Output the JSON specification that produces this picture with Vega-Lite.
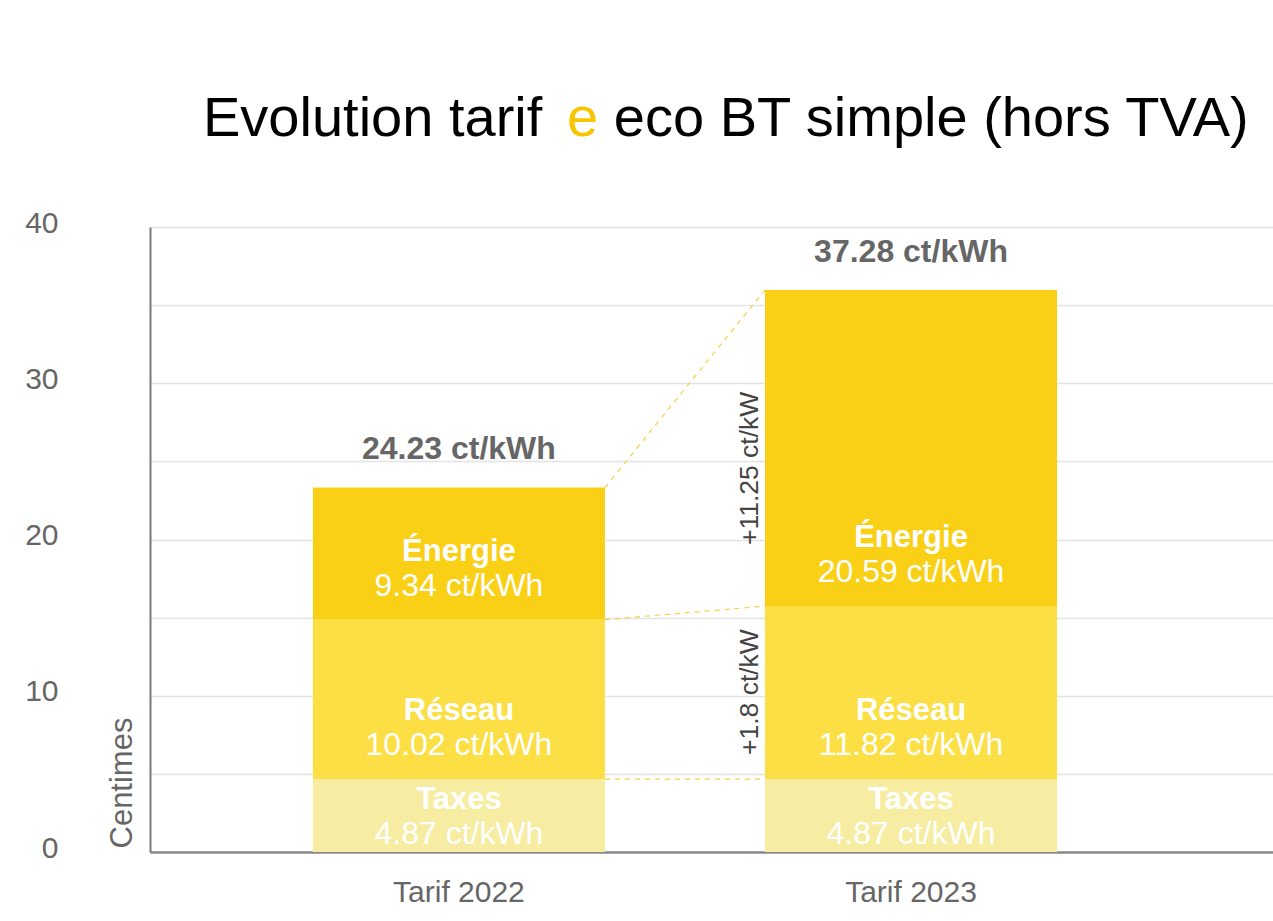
{
  "$schema": "https://vega.github.io/schema/vega-lite/v6.json",
  "autosize": {"type": "none"},
  "padding": {"left": 150, "top": 227, "right": 0, "bottom": 69},
  "width": 1123,
  "height": 625,
  "background": "white",
  "config": {"view": {"stroke": null}},
  "title": {
    "text": "Evolution tarif\u2003 eco BT simple (hors TVA)",
    "subtitle": "\u200b\u2003\u2003\u2003\u2003\u2003\u2003\u2002e",
    "anchor": "start",
    "frame": "group",
    "dx": 53,
    "offset": 60,
    "font": "Liberation Sans",
    "fontSize": 56,
    "fontWeight": "normal",
    "color": "#000000",
    "subtitleFont": "Liberation Sans",
    "subtitleFontSize": 56,
    "subtitleFontWeight": "normal",
    "subtitleColor": "#F7C600",
    "subtitlePadding": -56
  },
  "data": {
    "values": [
      {"tarif": "Tarif 2022", "composante": "Taxes", "rang": 1, "valeur": 4.67, "libelle": "4.87 ct/kWh", "total": "24.23 ct/kWh", "ecart": ""},
      {"tarif": "Tarif 2022", "composante": "Réseau", "rang": 2, "valeur": 10.2, "libelle": "10.02 ct/kWh", "total": "24.23 ct/kWh", "ecart": ""},
      {"tarif": "Tarif 2022", "composante": "Énergie", "rang": 3, "valeur": 8.46, "libelle": "9.34 ct/kWh", "total": "24.23 ct/kWh", "ecart": ""},
      {"tarif": "Tarif 2023", "composante": "Taxes", "rang": 1, "valeur": 4.67, "libelle": "4.87 ct/kWh", "total": "37.28 ct/kWh", "ecart": ""},
      {"tarif": "Tarif 2023", "composante": "Réseau", "rang": 2, "valeur": 11.07, "libelle": "11.82 ct/kWh", "total": "37.28 ct/kWh", "ecart": "+1.8 ct/kW"},
      {"tarif": "Tarif 2023", "composante": "Énergie", "rang": 3, "valeur": 20.23, "libelle": "20.59 ct/kWh", "total": "37.28 ct/kWh", "ecart": "+11.25 ct/kW"}
    ]
  },
  "transform": [
    {"stack": "valeur", "groupby": ["tarif"], "sort": [{"field": "rang", "order": "ascending"}], "as": ["bas", "haut"]}
  ],
  "layer": [
    {
      "mark": {"type": "bar"},
      "encoding": {
        "x": {
          "field": "tarif", "type": "nominal", "title": null,
          "scale": {"paddingInner": 0.354, "paddingOuter": 0.419, "align": 0.43},
          "axis": {
            "title": null, "labelAngle": 0, "ticks": false, "grid": false,
            "domainColor": "#8a8a8a", "domainWidth": 2.5,
            "labelFont": "Liberation Sans", "labelFontSize": 30, "labelColor": "#666666",
            "labelPadding": 25
          }
        },
        "y": {
          "field": "bas", "type": "quantitative", "title": "Centimes",
          "scale": {"domain": [0, 40], "nice": false, "zero": true},
          "axis": {
            "title": "Centimes",
            "values": [0, 5, 10, 15, 20, 25, 30, 35, 40],
            "labelExpr": "datum.value % 10 === 0 ? datum.label : ''",
            "grid": true, "gridColor": "#e3e3e3", "gridWidth": 1.5,
            "ticks": false,
            "domainColor": "#7a7a7a", "domainWidth": 2,
            "labelFont": "Liberation Sans", "labelFontSize": 30, "labelColor": "#666666",
            "labelPadding": 92, "labelOffset": -4,
            "titleFont": "Liberation Sans", "titleFontSize": 31, "titleFontWeight": "normal", "titleColor": "#666666",
            "titleAngle": 270, "titleAlign": "left", "titleBaseline": "alphabetic",
            "titleX": -19, "titleY": 621
          }
        },
        "y2": {"field": "haut"},
        "color": {
          "field": "composante", "type": "nominal",
          "scale": {"domain": ["Énergie", "Réseau", "Taxes"], "range": ["#FAD017", "#FBDF45", "#F7EDA2"]},
          "legend": null
        }
      }
    },
    {
      "transform": [{"pivot": "tarif", "value": "haut", "groupby": ["composante"]}],
      "mark": {"type": "rule", "strokeDash": [5, 5], "strokeWidth": 1.2, "color": "#F6D040"},
      "encoding": {
        "x": {"datum": "Tarif 2022", "type": "nominal", "bandPosition": 1, "title": null},
        "x2": {"datum": "Tarif 2023", "bandPosition": 0},
        "y": {"field": "Tarif 2022", "type": "quantitative", "title": "Centimes"},
        "y2": {"field": "Tarif 2023"}
      }
    },
    {
      "transform": [{"filter": "datum.composante !== 'Taxes'"}],
      "mark": {"type": "text", "font": "Liberation Sans", "fontSize": 31, "fontWeight": "bold", "color": "#ffffff", "baseline": "middle", "dy": -68},
      "encoding": {
        "x": {"field": "tarif", "type": "nominal", "title": null},
        "y": {"field": "bas", "type": "quantitative", "title": "Centimes"},
        "text": {"field": "composante"}
      }
    },
    {
      "transform": [{"filter": "datum.composante !== 'Taxes'"}],
      "mark": {"type": "text", "font": "Liberation Sans", "fontSize": 32, "fontWeight": "normal", "color": "#ffffff", "baseline": "middle", "dy": -34},
      "encoding": {
        "x": {"field": "tarif", "type": "nominal", "title": null},
        "y": {"field": "bas", "type": "quantitative", "title": "Centimes"},
        "text": {"field": "libelle"}
      }
    },
    {
      "transform": [{"filter": "datum.composante === 'Taxes'"}],
      "mark": {"type": "text", "font": "Liberation Sans", "fontSize": 31, "fontWeight": "bold", "color": "#ffffff", "baseline": "middle", "dy": -52},
      "encoding": {
        "x": {"field": "tarif", "type": "nominal", "title": null},
        "y": {"field": "bas", "type": "quantitative", "title": "Centimes"},
        "text": {"field": "composante"}
      }
    },
    {
      "transform": [{"filter": "datum.composante === 'Taxes'"}],
      "mark": {"type": "text", "font": "Liberation Sans", "fontSize": 32, "fontWeight": "normal", "color": "#ffffff", "baseline": "middle", "dy": -18},
      "encoding": {
        "x": {"field": "tarif", "type": "nominal", "title": null},
        "y": {"field": "bas", "type": "quantitative", "title": "Centimes"},
        "text": {"field": "libelle"}
      }
    },
    {
      "transform": [{"filter": "datum.composante === 'Énergie'"}],
      "mark": {"type": "text", "font": "Liberation Sans", "fontSize": 32, "fontWeight": "bold", "color": "#666666", "baseline": "middle", "dy": -38},
      "encoding": {
        "x": {"field": "tarif", "type": "nominal", "title": null},
        "y": {"field": "haut", "type": "quantitative", "title": "Centimes"},
        "text": {"field": "total"}
      }
    },
    {
      "transform": [{"filter": "datum.ecart !== '' && datum.composante === 'Énergie'"}],
      "mark": {"type": "text", "font": "Liberation Sans", "fontSize": 26.5, "color": "#444444", "angle": 270, "align": "left", "baseline": "alphabetic", "dx": 61, "dy": -7},
      "encoding": {
        "x": {"field": "tarif", "type": "nominal", "bandPosition": 0, "title": null},
        "y": {"field": "bas", "type": "quantitative", "title": "Centimes"},
        "text": {"field": "ecart"}
      }
    },
    {
      "transform": [{"filter": "datum.ecart !== '' && datum.composante === 'Réseau'"}],
      "mark": {"type": "text", "font": "Liberation Sans", "fontSize": 26.5, "color": "#444444", "angle": 270, "align": "left", "baseline": "alphabetic", "dx": 24, "dy": -7},
      "encoding": {
        "x": {"field": "tarif", "type": "nominal", "bandPosition": 0, "title": null},
        "y": {"field": "bas", "type": "quantitative", "title": "Centimes"},
        "text": {"field": "ecart"}
      }
    }
  ]
}
